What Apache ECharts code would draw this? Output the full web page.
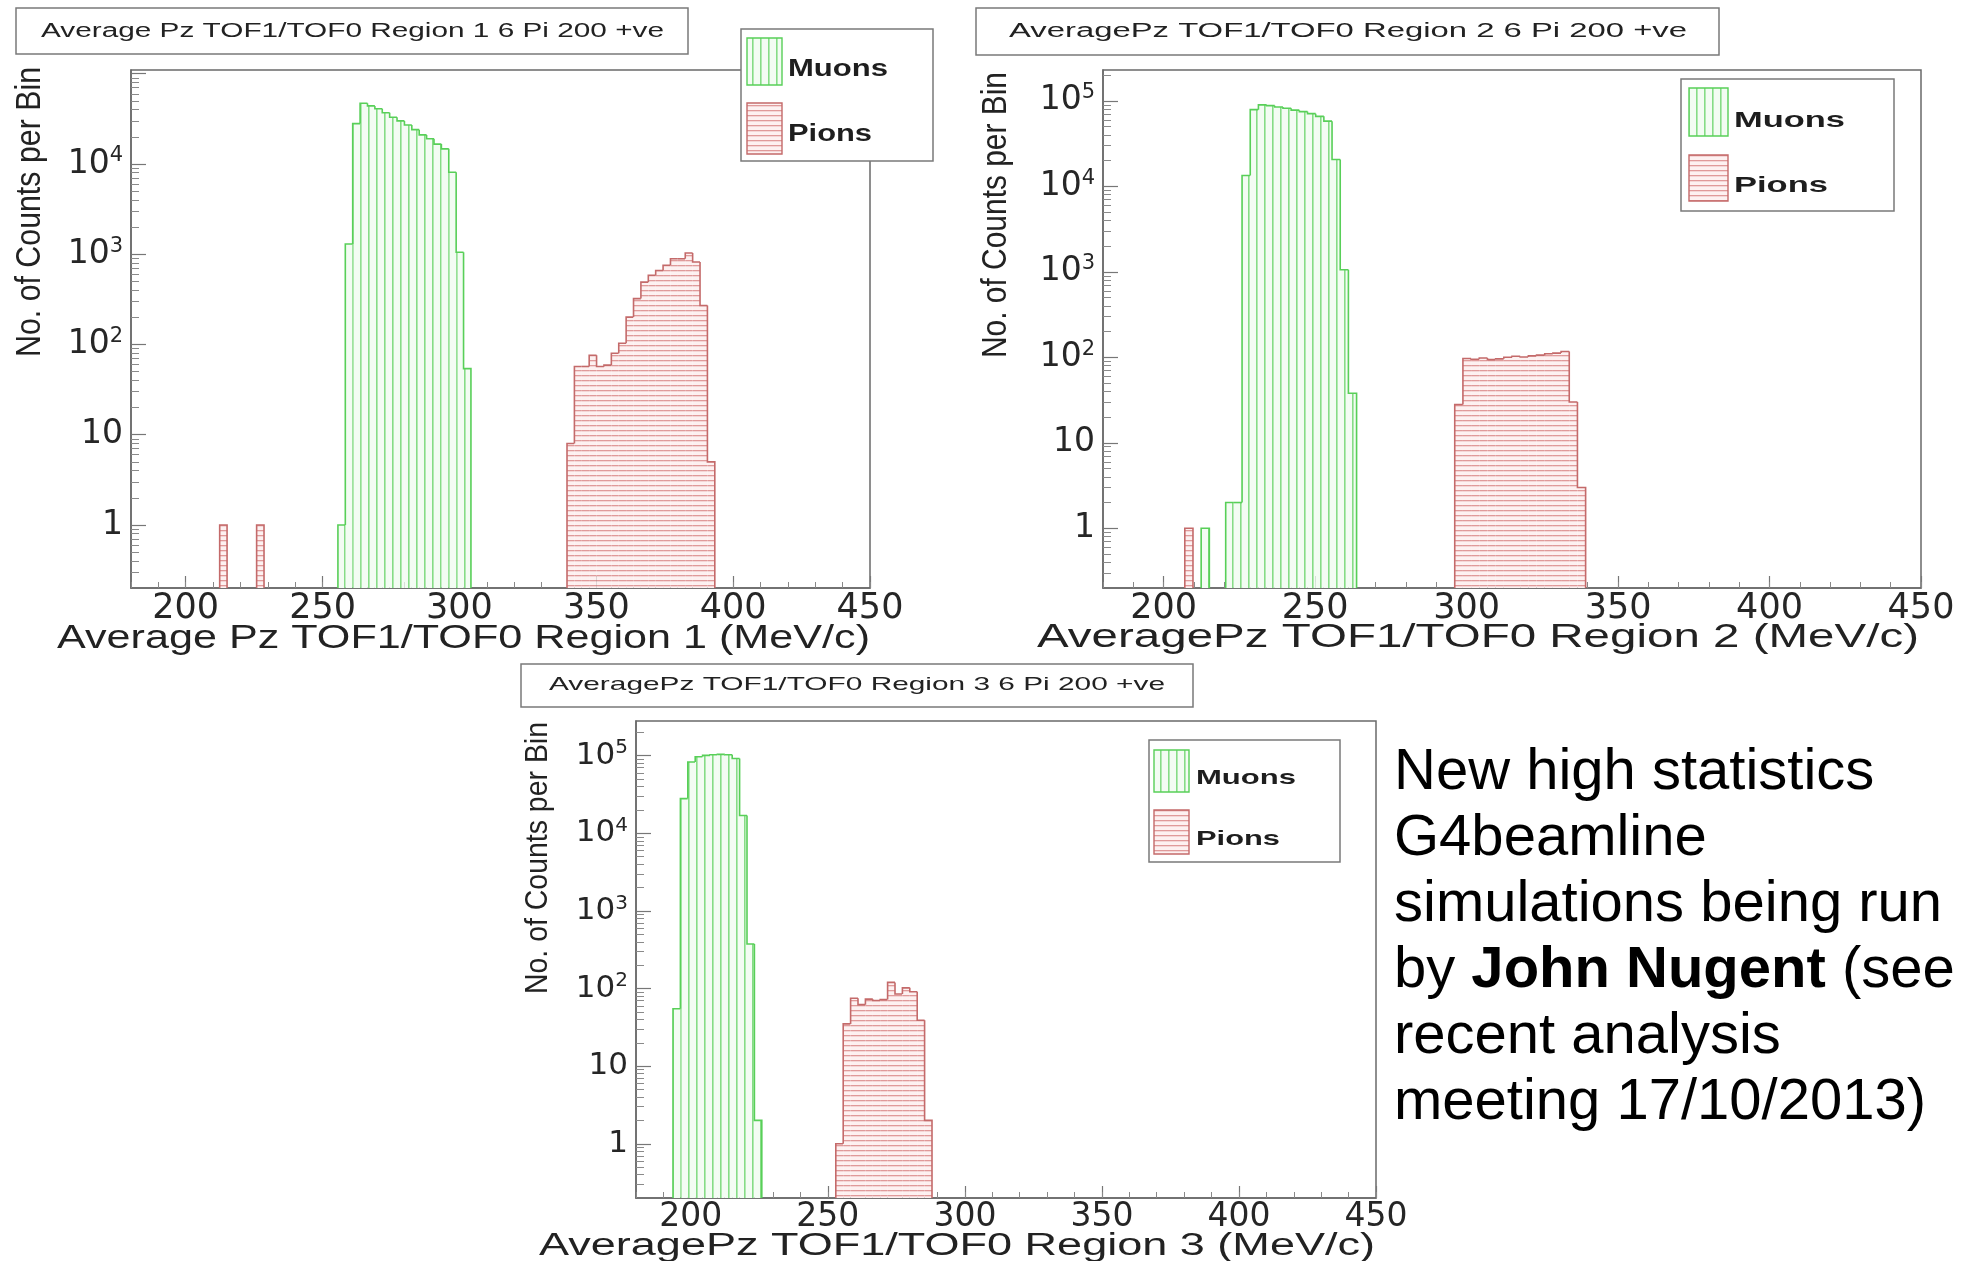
<!DOCTYPE html>
<html>
<head>
<meta charset="utf-8">
<script src="https://cdn.jsdelivr.net/npm/echarts@6/dist/echarts.min.js"></script>
<style>
  html, body { margin: 0; padding: 0; background: #fff; }
  #chart { width: 1980px; height: 1261px; }
</style>
</head>
<body>
<div id="chart"></div>
<script>
// ---- Binning shared by the three histograms (100 bins over 180-450 MeV/c) ----
const BIN_WIDTH = 2.7;
const X_MIN = 180;
const X_MAX = 450;
const Y_MIN = 0.2;

// ---- Region 1 ----
const region1MuonStart = 255.6;
const region1MuonCounts = [1, 1300, 28000, 47000, 44000, 41000, 37000, 33000, 30000, 27000, 24000, 21000, 19000, 16600, 14700, 8100, 1050, 54];
const region1PionLowStart = 212.4;
const region1PionLowCounts = [1, 0, 0, 0, 0, 1];
const region1PionStart = 339.3;
const region1PionCounts = [8, 57, 57, 76, 57, 59, 80, 103, 201, 322, 490, 585, 660, 755, 890, 890, 1030, 820, 270, 5];

// ---- Region 2 ----
const region2MuonStart = 212.4;
const region2MuonCounts = [1, 0, 0, 2, 2, 13400, 79000, 90000, 88000, 85000, 82000, 78000, 75000, 71000, 66000, 58000, 20600, 1060, 38];
const region2PionLowStart = 207.0;
const region2PionLowCounts = [1];
const region2PionStart = 296.1;
const region2PionCounts = [28, 97, 95, 98, 94, 96, 100, 103, 101, 104, 106, 110, 112, 117, 30, 3];

// ---- Region 3 ----
const region3MuonStart = 193.5;
const region3MuonCounts = [55, 28000, 83000, 97000, 101000, 103000, 104000, 103000, 92000, 17000, 375, 2];
const region3PionStart = 252.9;
const region3PionCounts = [1, 35, 75, 62, 73, 70, 72, 120, 85, 102, 91, 39, 2];

// ---- Axis ticks and labels ----
const xLabelValues = [200, 250, 300, 350, 400, 450];
const yLabelValuesRegion1 = [1, 10, 100, 1000, 10000];
const yLabelValuesRegion23 = [1, 10, 100, 1000, 10000, 100000];
const yMajorTickValues = [1, 10, 100, 1000, 10000, 100000];
const yMaxValues = [1.1e5, 2.3e5, 2.8e5];

// ---- Texts ----
const seriesNames = ['Muons', 'Pions'];
const panelTitles = [
  'Average Pz TOF1/TOF0 Region 1 6 Pi 200 +ve',
  'AveragePz TOF1/TOF0 Region 2 6 Pi 200 +ve',
  'AveragePz TOF1/TOF0 Region 3 6 Pi 200 +ve'
];
const xAxisTitles = [
  'Average Pz TOF1/TOF0 Region 1 (MeV/c)',
  'AveragePz TOF1/TOF0 Region 2 (MeV/c)',
  'AveragePz TOF1/TOF0 Region 3 (MeV/c)'
];
const yAxisTitle = 'No. of Counts per Bin';
const noteText = 'New high statistics\nG4beamline\nsimulations being run\nby {b|John Nugent} (see\nrecent analysis\nmeeting 17/10/2013)';

// ---- Minor ticks: every 10 MeV/c on x, 2..9 x 10^n on y ----
const xMinorTickValues = [];
for (let v = X_MIN; v <= X_MAX; v += 10) xMinorTickValues.push(v);
const yMinorTickValues = [];
for (let e = -1; e <= 5; e++) {
  for (let m = 2; m <= 9; m++) {
    const v = +(m * Math.pow(10, e)).toPrecision(3);
    if (v > Y_MIN) yMinorTickValues.push(v);
  }
}

// ---- Layout of the three panels (pixels) ----
const layout = [
  {
    grid: { left: 131, top: 70, width: 739, height: 518 },
    titleBox: [16, 8, 672, 46], title: { left: 41, width: 623, cy: 31, size: 20 },
    xTitle: { left: 57, width: 813, cy: 639, size: 33 },
    yTitle: { cx: 30, cy: 212, len: 290, size: 35 },
    legend: { box: [741, 29, 192, 132], sw: [747, 35], muY: [38, 85], piY: [103, 154], tx: 788, muW: 100, piW: 84, muCy: 70, piCy: 135, size: 23 },
    xLabelSize: 35, yLabelSize: 33
  },
  {
    grid: { left: 1103, top: 70, width: 818, height: 518 },
    titleBox: [976, 8, 743, 47], title: { left: 1009, width: 678, cy: 31, size: 20 },
    xTitle: { left: 1037, width: 882, cy: 638, size: 33 },
    yTitle: { cx: 996, cy: 215, len: 286, size: 35 },
    legend: { box: [1681, 79, 213, 132], sw: [1689, 39], muY: [88, 136], piY: [155, 201], tx: 1734, muW: 111, piW: 94, muCy: 121, piCy: 186, size: 22 },
    xLabelSize: 35, yLabelSize: 33
  },
  {
    grid: { left: 636, top: 721, width: 740, height: 477 },
    titleBox: [521, 664, 672, 43], title: { left: 549, width: 616, cy: 685, size: 19 },
    xTitle: { left: 539, width: 836, cy: 1246, size: 31 },
    yTitle: { cx: 538, cy: 858, len: 272, size: 32 },
    legend: { box: [1149, 740, 191, 122], sw: [1154, 35], muY: [750, 792], piY: [810, 854], tx: 1196, muW: 100, piW: 84, muCy: 778, piCy: 839, size: 21 },
    xLabelSize: 33, yLabelSize: 31
  }
];

// ---- Colours and hatch fills ----
const MUON_LINE = '#58cf58';
const PION_LINE = '#c46a6a';
const FRAME = '#6a6a6a';
const TEXT = '#222';
const LABEL = '#262626';

function hatchCanvas(vertical, lineColor, bgColor, spacing) {
  const c = document.createElement('canvas');
  c.width = vertical ? spacing : 8;
  c.height = vertical ? 8 : spacing;
  const g = c.getContext('2d');
  g.fillStyle = bgColor;
  g.fillRect(0, 0, c.width, c.height);
  g.fillStyle = lineColor;
  if (vertical) g.fillRect(0, 0, 1.6, c.height);
  else g.fillRect(0, 0, c.width, 1.3);
  return c;
}
const muonFill = { image: hatchCanvas(true, '#86dc86', '#f3fcf3', 8), repeat: 'repeat' };
const pionFill = { image: hatchCanvas(false, '#e09a9a', '#fdf1f1', 5), repeat: 'repeat' };

// ---- Histogram helpers ----
function buildBins(start, counts) {
  const items = [];
  counts.forEach(function (c, i) {
    if (!c) return;
    const x0 = +(start + i * BIN_WIDTH).toFixed(2);
    const x1 = +(x0 + BIN_WIDTH).toFixed(2);
    const prev = i > 0 ? counts[i - 1] : 0;
    const next = i < counts.length - 1 ? counts[i + 1] : 0;
    items.push([x0, x1, c, prev, next]);
  });
  return items;
}

function histRenderer(fill, stroke) {
  return function (params, api) {
    const x0 = api.value(0), x1 = api.value(1), c = api.value(2);
    const prev = api.value(3), next = api.value(4);
    const bl = api.coord([x0, Y_MIN]);
    const tr = api.coord([x1, c]);
    const yPrev = prev > 0 ? api.coord([x0, prev])[1] : bl[1];
    const pts = [[bl[0], yPrev], [bl[0], tr[1]], [tr[0], tr[1]]];
    if (!(next > 0)) pts.push([tr[0], bl[1]]);
    return {
      type: 'group',
      children: [
        { type: 'rect', shape: { x: bl[0], y: tr[1], width: tr[0] - bl[0], height: bl[1] - tr[1] },
          style: { fill: fill, stroke: null } },
        { type: 'polyline', shape: { points: pts },
          style: { fill: null, stroke: stroke, lineWidth: 1.6 } }
      ]
    };
  };
}

function histSeries(name, panel, start, counts, fill, stroke) {
  return {
    type: 'custom', name: name,
    xAxisIndex: panel * 2, yAxisIndex: panel * 2,
    data: buildBins(start, counts),
    encode: { x: [0, 1], y: 2 },
    renderItem: histRenderer(fill, stroke),
    clip: true, silent: true, animation: false
  };
}

// ---- Axes ----
function powerLabel(v) {
  const e = Math.round(Math.log10(v));
  if (e === 0) return '1';
  if (e === 1) return '10';
  return '{b|10}{s|' + e + '}';
}

const grids = [], xAxes = [], yAxes = [];
layout.forEach(function (L, i) {
  grids.push(Object.assign({ show: true, borderColor: FRAME, borderWidth: 1.5, backgroundColor: '#fff',
    containLabel: false, outerBoundsMode: 'none' }, L.grid));
  const yMax = yMaxValues[i];
  const yLabels = i === 0 ? yLabelValuesRegion1 : yLabelValuesRegion23;
  const supSize = Math.round(L.yLabelSize * 0.64);
  xAxes.push({
    type: 'value', gridIndex: i, min: X_MIN, max: X_MAX, position: 'bottom',
    axisLine: { show: true, lineStyle: { color: FRAME, width: 1.5 } },
    axisTick: { show: true, inside: true, length: 12, customValues: xLabelValues, lineStyle: { color: '#777', width: 1.2 } },
    axisLabel: { show: true, customValues: xLabelValues, margin: 3, color: LABEL,
      fontFamily: 'DejaVu Sans', fontSize: L.xLabelSize },
    splitLine: { show: false }
  });
  xAxes.push({
    type: 'value', gridIndex: i, min: X_MIN, max: X_MAX, position: 'bottom',
    axisLine: { show: false },
    axisTick: { show: true, inside: true, length: 6, customValues: xMinorTickValues, lineStyle: { color: '#888', width: 1 } },
    axisLabel: { show: false }, splitLine: { show: false }
  });
  yAxes.push({
    type: 'log', logBase: 10, gridIndex: i, min: Y_MIN, max: yMax, position: 'left',
    axisLine: { show: true, lineStyle: { color: FRAME, width: 1.5 } },
    axisTick: { show: true, inside: true, length: 15,
      customValues: yMajorTickValues.filter(function (v) { return v <= yMax; }),
      lineStyle: { color: '#777', width: 1.2 } },
    axisLabel: {
      show: true, customValues: yLabels, margin: 8, color: LABEL,
      fontFamily: 'DejaVu Sans', fontSize: L.yLabelSize,
      formatter: powerLabel,
      rich: {
        b: { fontFamily: 'DejaVu Sans', fontSize: L.yLabelSize, color: LABEL, lineHeight: L.yLabelSize + 4 },
        s: { fontFamily: 'DejaVu Sans', fontSize: supSize, color: LABEL,
             verticalAlign: 'top', lineHeight: supSize + 1 }
      }
    },
    splitLine: { show: false }
  });
  yAxes.push({
    type: 'log', logBase: 10, gridIndex: i, min: Y_MIN, max: yMax, position: 'left',
    axisLine: { show: false },
    axisTick: { show: true, inside: true, length: 8,
      customValues: yMinorTickValues.filter(function (v) { return v <= yMax; }),
      lineStyle: { color: '#8a8a8a', width: 1 } },
    axisLabel: { show: false }, splitLine: { show: false }
  });
});

// ---- Series ----
const series = [
  histSeries(seriesNames[0], 0, region1MuonStart, region1MuonCounts, muonFill, MUON_LINE),
  histSeries(seriesNames[1], 0, region1PionLowStart, region1PionLowCounts, pionFill, PION_LINE),
  histSeries(seriesNames[1], 0, region1PionStart, region1PionCounts, pionFill, PION_LINE),
  histSeries(seriesNames[0], 1, region2MuonStart, region2MuonCounts, muonFill, MUON_LINE),
  histSeries(seriesNames[1], 1, region2PionLowStart, region2PionLowCounts, pionFill, PION_LINE),
  histSeries(seriesNames[1], 1, region2PionStart, region2PionCounts, pionFill, PION_LINE),
  histSeries(seriesNames[0], 2, region3MuonStart, region3MuonCounts, muonFill, MUON_LINE),
  histSeries(seriesNames[1], 2, region3PionStart, region3PionCounts, pionFill, PION_LINE)
];

// ---- Text boxes, axis titles and legends (stretched text fitted to width) ----
const measureCtx = document.createElement('canvas').getContext('2d');
function widthOf(text, font) { measureCtx.font = font; return measureCtx.measureText(text).width; }

function stretchedText(text, font, x, y, targetWidth, opts) {
  opts = opts || {};
  const s = targetWidth / widthOf(text, font);
  return {
    type: 'text', x: x, y: y, scaleX: s, rotation: opts.rotation || 0, z: 20, silent: true,
    style: { text: text, font: font, fill: opts.fill || TEXT,
      textAlign: opts.align || 'left', align: opts.align || 'left',
      textVerticalAlign: 'middle', verticalAlign: 'middle' }
  };
}

const graphics = [];
layout.forEach(function (L, i) {
  const tb = L.titleBox;
  graphics.push({ type: 'rect', z: 15, silent: true, shape: { x: tb[0], y: tb[1], width: tb[2], height: tb[3] },
    style: { fill: '#fff', stroke: '#7a7a7a', lineWidth: 1.5 } });
  graphics.push(stretchedText(panelTitles[i], L.title.size + 'px "Liberation Sans"', L.title.left, L.title.cy, L.title.width));
  graphics.push(stretchedText(xAxisTitles[i], L.xTitle.size + 'px "Liberation Sans"', L.xTitle.left, L.xTitle.cy, L.xTitle.width));
  graphics.push(stretchedText(yAxisTitle, L.yTitle.size + 'px "Liberation Sans"', L.yTitle.cx, L.yTitle.cy, L.yTitle.len,
    { rotation: Math.PI / 2, align: 'center' }));

  const lg = L.legend;
  graphics.push({ type: 'rect', z: 15, silent: true, shape: { x: lg.box[0], y: lg.box[1], width: lg.box[2], height: lg.box[3] },
    style: { fill: '#fff', stroke: '#7a7a7a', lineWidth: 1.5 } });
  graphics.push({ type: 'rect', z: 16, silent: true, shape: { x: lg.sw[0], y: lg.muY[0], width: lg.sw[1], height: lg.muY[1] - lg.muY[0] },
    style: { fill: muonFill, stroke: MUON_LINE, lineWidth: 1.4 } });
  graphics.push({ type: 'rect', z: 16, silent: true, shape: { x: lg.sw[0], y: lg.piY[0], width: lg.sw[1], height: lg.piY[1] - lg.piY[0] },
    style: { fill: pionFill, stroke: PION_LINE, lineWidth: 1.4 } });
  graphics.push(stretchedText(seriesNames[0], 'bold ' + lg.size + 'px "Liberation Sans"', lg.tx, lg.muCy, lg.muW, { fill: '#1e1e1e' }));
  graphics.push(stretchedText(seriesNames[1], 'bold ' + lg.size + 'px "Liberation Sans"', lg.tx, lg.piCy, lg.piW, { fill: '#1e1e1e' }));
});

graphics.push({
  type: 'text', x: 1394, y: 740, z: 20, silent: true,
  style: {
    text: noteText, fill: '#000', fontFamily: 'Liberation Sans', fontSize: 58, lineHeight: 66,
    textAlign: 'left', align: 'left', textVerticalAlign: 'top', verticalAlign: 'top',
    rich: { b: { fontFamily: 'Liberation Sans', fontSize: 58, fontWeight: 'bold', lineHeight: 66, fill: '#000' } }
  }
});

const chart = echarts.init(document.getElementById('chart'), null, { renderer: 'canvas', width: 1980, height: 1261 });
chart.setOption({
  backgroundColor: '#fff',
  animation: false,
  grid: grids,
  xAxis: xAxes,
  yAxis: yAxes,
  series: series,
  graphic: { elements: graphics }
});
</script>
</body>
</html>
